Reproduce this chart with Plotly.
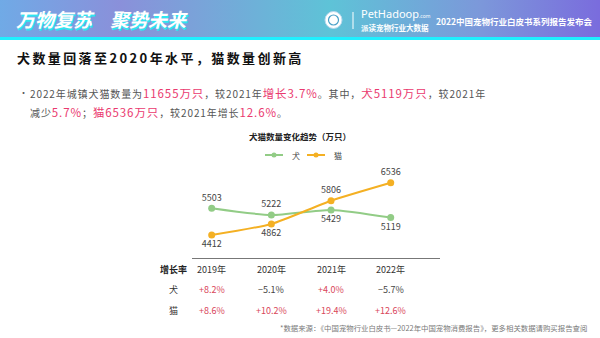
import plotly.graph_objects as go

# ---------------- data ----------------
years = ['2019年', '2020年', '2021年', '2022年']
dog = [5503, 5222, 5429, 5119]
cat = [4412, 4862, 5806, 6536]
dog_growth = ['+8.2%', '−5.1%', '+4.0%', '−5.7%']
cat_growth = ['+8.6%', '+10.2%', '+19.4%', '+12.6%']
dog_label_pos = ['top center', 'top center', 'bottom center', 'bottom center']
cat_label_pos = ['bottom center', 'bottom center', 'top center', 'top center']

title_text = '犬数量回落至2020年水平，猫数量创新高'
body_line1 = [('2022年城镇犬猫数量为', False), ('11655万只', True), ('，较2021年', False),
              ('增长3.7%', True), ('。其中，', False), ('犬5119万只', True), ('，较2021年', False)]
body_line2 = [('减少', False), ('5.7%', True), ('；', False), ('猫6536万只', True),
              ('，较2021年增长', False), ('12.6%', True), ('。', False)]
chart_title = '犬猫数量变化趋势（万只）'
footnote = '*数据来源：《中国宠物行业白皮书—2022年中国宠物消费报告》，更多相关数据请购买报告查阅'

W, H = 600, 338
CJK = 'Noto Sans CJK SC, Noto Sans, sans-serif'
GREEN = '#92cc86'
ORANGE = '#f4b023'
PINK = '#ea3a6f'
RED = '#d9465a'


def px(x):
    return x / W


def py(y):
    return 1 - y / H


fig = go.Figure()

# header gradient band (pixel-space overlay axes)
fig.add_trace(go.Scatter(
    x=[0, W, W, 0, 0], y=[0, 0, 37, 37, 0], fill='toself', mode='lines',
    line=dict(width=0),
    fillgradient=dict(type='horizontal', colorscale=[
        [0, '#70aae6'], [0.2, '#8a90da'], [0.55, '#5ec3d7'], [0.8, '#7c98da'], [1, '#7a6cdd']]),
    xaxis='x2', yaxis='y2', hoverinfo='skip', showlegend=False))

xs = list(range(len(years)))
fig.add_trace(go.Scatter(
    x=xs, y=dog, mode='lines+markers+text', name='犬',
    line=dict(color=GREEN, width=2, shape='spline', smoothing=0.6),
    marker=dict(color=GREEN, size=7),
    text=[str(v) for v in dog], textposition=dog_label_pos,
    textfont=dict(family=CJK, size=9, color='#444'),
    cliponaxis=False, showlegend=False, hoverinfo='skip'))
fig.add_trace(go.Scatter(
    x=xs, y=cat, mode='lines+markers+text', name='猫',
    line=dict(color=ORANGE, width=2, shape='spline', smoothing=0.6),
    marker=dict(color=ORANGE, size=7),
    text=[str(v) for v in cat], textposition=cat_label_pos,
    textfont=dict(family=CJK, size=9, color='#444'),
    cliponaxis=False, showlegend=False, hoverinfo='skip'))

shapes = []
annotations = []

# cyan strip under header
shapes.append(dict(type='rect', xref='paper', yref='paper', x0=0, x1=1, y0=py(40), y1=py(37),
                   fillcolor='#1ff0ff', line=dict(width=0), layer='above'))

# header texts
for t, x0 in [('万物复苏', 14), ('聚势未来', 108)]:
    annotations.append(dict(text=t, x=px(x0), y=py(19), xref='paper', yref='paper',
                            xanchor='left', yanchor='middle', showarrow=False,
                            font=dict(family=CJK, size=19, color='white', weight='bold',
                                      style='italic', shadow='1px 1.5px 0px #2ee6f0')))
# logo
shapes.append(dict(type='circle', xref='paper', yref='paper', x0=px(325), x1=px(342),
                   y0=py(28.5), y1=py(11.5), fillcolor='white', line=dict(color='#b9d8ee', width=1)))
shapes.append(dict(type='circle', xref='paper', yref='paper', x0=px(328.5), x1=px(338.5),
                   y0=py(25), y1=py(15), fillcolor='rgba(0,0,0,0)', line=dict(color='#4aa0c8', width=1.2)))
shapes.append(dict(type='line', xref='paper', yref='paper', x0=px(353), x1=px(353),
                   y0=py(29), y1=py(12), line=dict(color='white', width=1)))
annotations.append(dict(text='PetHadoop<span style="font-size:5px">.com</span>', x=px(359), y=py(14),
                        xref='paper', yref='paper', xanchor='left', yanchor='middle', showarrow=False,
                        font=dict(family='Noto Sans, sans-serif', size=11, color='white')))
annotations.append(dict(text='派读宠物行业大数据', x=px(359), y=py(27.5),
                        xref='paper', yref='paper', xanchor='left', yanchor='middle', showarrow=False,
                        font=dict(family=CJK, size=7.5, color='white', weight='bold')))
annotations.append(dict(text='2022中国宠物行业白皮书系列报告发布会', x=px(595), y=py(20.5),
                        xref='paper', yref='paper', xanchor='right', yanchor='middle', showarrow=False,
                        font=dict(family=CJK, size=8.5, color='white', weight='bold')))

# section title
annotations.append(dict(text='<span style="letter-spacing:2.4px">' + title_text + '</span>',
                        x=px(15), y=py(58), xref='paper', yref='paper', xanchor='left',
                        yanchor='middle', showarrow=False,
                        font=dict(family=CJK, size=13, color='#111', weight='bold')))


def build(parts):
    out = []
    for t, hl in parts:
        if hl:
            out.append('<span style="color:%s;font-size:11.5px;letter-spacing:0.9px">%s</span>' % (PINK, t))
        else:
            out.append('<span style="letter-spacing:0.9px">%s</span>' % t)
    return ''.join(out)


annotations.append(dict(text='•', x=px(17), y=py(93), xref='paper', yref='paper',
                        xanchor='left', yanchor='middle', showarrow=False,
                        font=dict(family=CJK, size=9, color='#555')))
annotations.append(dict(text=build(body_line1), x=px(28), y=py(93), xref='paper', yref='paper',
                        xanchor='left', yanchor='middle', showarrow=False,
                        font=dict(family=CJK, size=10, color='#555')))
annotations.append(dict(text=build(body_line2), x=px(28), y=py(111.5), xref='paper', yref='paper',
                        xanchor='left', yanchor='middle', showarrow=False,
                        font=dict(family=CJK, size=10, color='#555')))

# chart title
annotations.append(dict(text=chart_title, x=px(300), y=py(136), xref='paper', yref='paper',
                        xanchor='center', yanchor='middle', showarrow=False,
                        font=dict(family=CJK, size=8.5, color='#222', weight='bold')))
# manual legend
for (name, col, lx0, lx1, tx) in [('犬', GREEN, 265, 283, 290), ('猫', ORANGE, 307, 325, 332)]:
    shapes.append(dict(type='line', xref='paper', yref='paper', x0=px(lx0), x1=px(lx1),
                       y0=py(155), y1=py(155), line=dict(color=col, width=2)))
    mx = (lx0 + lx1) / 2
    shapes.append(dict(type='circle', xref='paper', yref='paper', x0=px(mx - 2.5), x1=px(mx + 2.5),
                       y0=py(157.5), y1=py(152.5), fillcolor=col, line=dict(width=0)))
    annotations.append(dict(text=name, x=px(tx), y=py(155), xref='paper', yref='paper',
                            xanchor='left', yanchor='middle', showarrow=False,
                            font=dict(family=CJK, size=8, color='#444')))

# growth table
row_label_x = px(173)
annotations.append(dict(text='增长率', x=row_label_x, y=py(269), xref='paper', yref='paper',
                        xanchor='center', yanchor='middle', showarrow=False,
                        font=dict(family=CJK, size=9, color='#222', weight='bold')))
annotations.append(dict(text='犬', x=row_label_x, y=py(289.5), xref='paper', yref='paper',
                        xanchor='center', yanchor='middle', showarrow=False,
                        font=dict(family=CJK, size=9, color='#333')))
annotations.append(dict(text='猫', x=row_label_x, y=py(310.5), xref='paper', yref='paper',
                        xanchor='center', yanchor='middle', showarrow=False,
                        font=dict(family=CJK, size=9, color='#333')))
for i, yr in enumerate(years):
    annotations.append(dict(text=yr, x=i, y=py(269), xref='x', yref='paper',
                            xanchor='center', yanchor='middle', showarrow=False,
                            font=dict(family=CJK, size=9, color='#333')))
    for g, yy in [(dog_growth[i], 289.5), (cat_growth[i], 310.5)]:
        annotations.append(dict(text=g, x=i, y=py(yy), xref='x', yref='paper',
                                xanchor='center', yanchor='middle', showarrow=False,
                                font=dict(family=CJK, size=9,
                                          color=RED if g.startswith('+') else '#444')))

# footnote
annotations.append(dict(text=footnote, x=px(589), y=py(327.5), xref='paper', yref='paper',
                        xanchor='right', yanchor='middle', showarrow=False,
                        font=dict(family=CJK, size=7.4, color='#7a7a7a')))

fig.update_layout(
    width=W, height=H, margin=dict(l=0, r=0, t=0, b=0),
    paper_bgcolor='white', plot_bgcolor='rgba(0,0,0,0)',
    showlegend=False,
    xaxis=dict(domain=[px(192), px(440)], range=[-0.33, 3.826], showgrid=False, zeroline=False,
               showticklabels=False, ticks='', showline=True, linecolor='#777', linewidth=1,
               fixedrange=True),
    yaxis=dict(domain=[py(258), py(165)], range=[3478, 7255], showgrid=False, zeroline=False,
               showticklabels=False, ticks='', showline=False, fixedrange=True),
    xaxis2=dict(domain=[0, 1], anchor='y2', range=[0, W], visible=False, fixedrange=True),
    yaxis2=dict(domain=[0, 1], anchor='x2', range=[H, 0], visible=False, fixedrange=True),
    shapes=shapes, annotations=annotations,
)

fig.write_html('out.html')
